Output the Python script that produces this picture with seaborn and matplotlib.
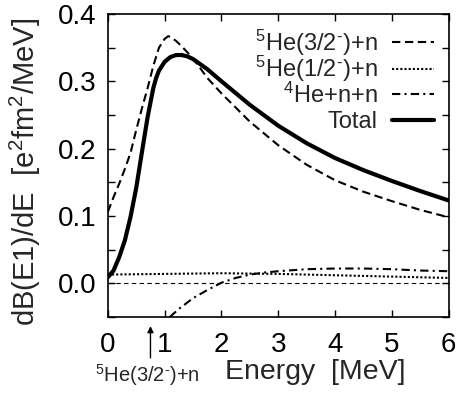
import numpy as np
import matplotlib
matplotlib.use("Agg")
import matplotlib.pyplot as plt
from matplotlib.legend import Legend
import seaborn as sns

# curves
e_32 = [0, 0.1, 0.2, 0.3, 0.4, 0.5, 0.6, 0.7, 0.8, 0.9, 1.0, 1.06, 1.1, 1.2, 1.3, 1.4, 1.5,
        1.75, 2.0, 2.5, 3.0, 3.5, 4.0, 4.5, 5.0, 5.5, 6.0]
b_32 = [0.106, 0.128, 0.148, 0.17, 0.194, 0.228, 0.26, 0.29, 0.323, 0.35, 0.363, 0.367,
        0.366, 0.36, 0.352, 0.343, 0.334, 0.305, 0.282, 0.240, 0.205, 0.176, 0.153,
        0.136, 0.122, 0.109, 0.098]

e_12 = [0, 1, 2, 3, 4, 5, 6]
b_12 = [0.013, 0.014, 0.015, 0.014, 0.012, 0.010, 0.008]

e_nn = [1.09, 1.25, 1.5, 1.75, 2.0, 2.25, 2.5, 2.75, 3.0, 3.5, 4.0, 4.5, 5.0, 5.5, 6.0]
b_nn = [-0.05, -0.038, -0.022, -0.010, 0.001, 0.008, 0.013, 0.016, 0.018, 0.021,
        0.022, 0.022, 0.021, 0.019, 0.018]

e_tot = [0, 0.1, 0.2, 0.3, 0.4, 0.5, 0.6, 0.7, 0.8, 0.85, 0.9, 1.0, 1.1, 1.2, 1.3, 1.4, 1.5,
         1.75, 2.0, 2.5, 3.0, 3.5, 4.0, 4.5, 5.0, 5.5, 6.0]
b_tot = [0.009, 0.019, 0.039, 0.064, 0.099, 0.142, 0.195, 0.247, 0.29, 0.305, 0.316,
         0.329, 0.336, 0.339, 0.339, 0.337, 0.333, 0.318, 0.300, 0.265, 0.234, 0.208,
         0.186, 0.168, 0.152, 0.137, 0.123]

labels = ["$^5$He(3/2$^{\u2010}$)+n", "$^5$He(1/2$^{\u2010}$)+n", "$^4$He+n+n", "Total"]
threshold = 0.75  # 5He(3/2-)+n threshold marked with an arrow

sns.set_style("ticks")
plt.rcParams['font.family'] = ['Liberation Sans', 'DejaVu Sans']
plt.rcParams['mathtext.fontset'] = 'custom'
plt.rcParams['mathtext.rm'] = 'Liberation Sans'
plt.rcParams['mathtext.default'] = 'regular'

fig = plt.figure(figsize=(4.57, 3.99), dpi=100)
ax = fig.add_axes([0.236, 0.2055, 0.746, 0.7595])

sns.lineplot(x=e_32, y=b_32, ax=ax, color='black', lw=1.5, dashes=(4, 2.2), label=labels[0])
sns.lineplot(x=e_12, y=b_12, ax=ax, color='black', lw=1.5, dashes=(1, 1), label=labels[1])
sns.lineplot(x=e_nn, y=b_nn, ax=ax, color='black', lw=1.5, dashes=(4, 2, 1, 2), label=labels[2])
sns.lineplot(x=e_tot, y=b_tot, ax=ax, color='black', lw=3.0, label=labels[3])
ax.axhline(0, color='black', lw=0.8, dashes=(4, 3))

ax.set_xlim(0, 6)
ax.set_ylim(-0.05, 0.4)
ax.set_xticks(range(7))
ax.set_yticks([0.0, 0.1, 0.2, 0.3, 0.4])
ax.set_yticks(np.arange(-0.05, 0.41, 0.05), minor=True)
ax.yaxis.set_major_formatter(matplotlib.ticker.FormatStrFormatter('%.1f'))
ax.tick_params(which='both', direction='in', top=True, right=True, length=5, width=1.0,
               labelsize=20, colors='black')
ax.tick_params(axis='x', pad=11)
ax.tick_params(axis='y', pad=8)
for s in ax.spines.values():
    s.set_linewidth(1.2)
    s.set_color('black')

ax.set_ylabel("dB(E1)/dE  [e$^2$fm$^2$/MeV]", fontsize=21)
ax.yaxis.set_label_coords(-0.19, 0.48)
ax.set_xlabel("Energy  [MeV]", fontsize=20.5)
ax.xaxis.set_label_coords(0.607, -0.14)

ax.annotate("", xy=(threshold, -0.03), xycoords=('data', 'axes fraction'),
            xytext=(threshold, -0.135), textcoords=('data', 'axes fraction'),
            arrowprops=dict(arrowstyle='-|>', color='black', lw=1.0, mutation_scale=9,
                            shrinkA=0, shrinkB=0))
ax.text(threshold - 0.05, -0.19, "$^5$He(3/2$^{\u2010}$)+n", transform=ax.get_xaxis_transform(),
        ha='center', va='center', fontsize=14.5)

# one legend per row so the rows are evenly spaced like the original key
handles, labs = ax.get_legend_handles_labels()
ax.get_legend().remove()
row_y = [0.905, 0.818, 0.733, 0.643]
for h, l, y in zip(handles, labs, row_y):
    leg = Legend(ax, [h], [l], loc='center right', frameon=False, markerfirst=False,
                 fontsize=17, handlelength=1.8, handletextpad=0.6,
                 borderaxespad=0.0, bbox_to_anchor=(0.985, y))
    ax.add_artist(leg)

fig.savefig("out.png", dpi=100)
